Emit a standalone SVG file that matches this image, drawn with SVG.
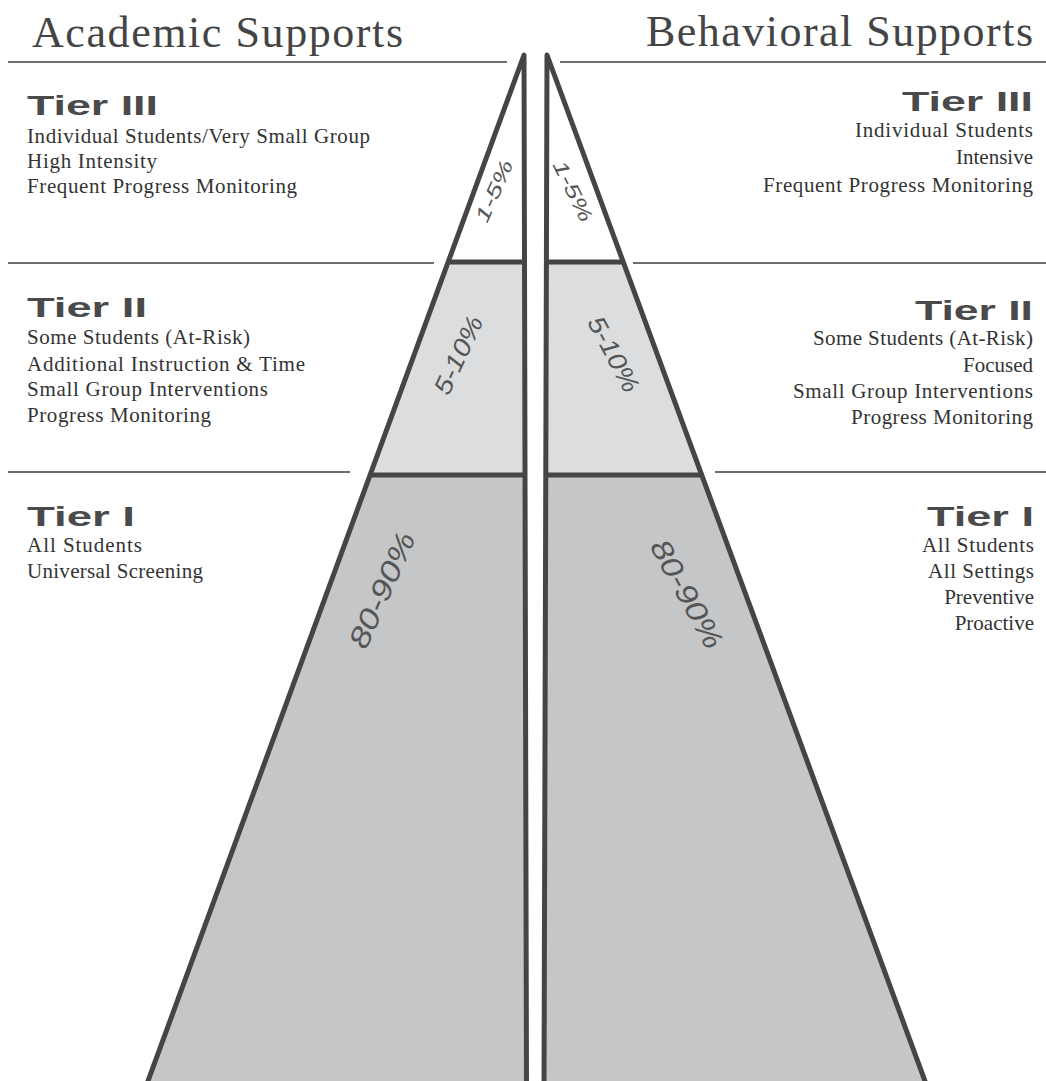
<svg xmlns="http://www.w3.org/2000/svg" width="1046" height="1081" viewBox="0 0 1046 1081">
<style>
.hdr{font-family:"Liberation Serif","Times New Roman",serif;font-size:44px;fill:#444}
.tier{font-family:"Liberation Sans",Arial,sans-serif;font-weight:bold;font-size:27px;fill:#4a4a4a}
.body{font-family:"Liberation Serif","Times New Roman",serif;font-size:21px;fill:#333}
.r{text-anchor:end}
.pct{font-family:"Liberation Sans",Arial,sans-serif;font-style:italic;fill:#555;text-anchor:middle}
.thin{stroke:#6e6e6e;stroke-width:2;fill:none}
.thick{stroke:#454545;stroke-width:5;fill:none;stroke-linejoin:round}
.t2{fill:#dcdddf}
.t1{fill:#c5c6c8}
</style>

<g id="dividers">
  <line class="thin" x1="8" y1="62" x2="507" y2="62"/>
  <line class="thin" x1="560" y1="62" x2="1046" y2="62"/>
  <line class="thin" x1="8" y1="263" x2="434" y2="263"/>
  <line class="thin" x1="633" y1="263" x2="1046" y2="263"/>
  <line class="thin" x1="8" y1="472" x2="350" y2="472"/>
  <line class="thin" x1="715" y1="472" x2="1046" y2="472"/>
</g>

<g id="left-pyramid">
  <polygon class="t2" points="448.1,262 524.5,262 525,475 370.1,475"/>
  <polygon class="t1" points="370.1,475 525,475 526.5,1090 144.7,1090"/>
  <line class="thick" x1="448.1" y1="262" x2="524.5" y2="262"/>
  <line class="thick" x1="370.1" y1="475" x2="525" y2="475"/>
  <polyline class="thick" points="144.7,1090 524,55 526.5,1090"/>
</g>

<g id="right-pyramid">
  <polygon class="t2" points="546.4,262 623.3,262 701.7,475 545.8,475"/>
  <polygon class="t1" points="545.8,475 701.7,475 928.3,1090 544,1090"/>
  <line class="thick" x1="546.4" y1="262" x2="623.3" y2="262"/>
  <line class="thick" x1="545.8" y1="475" x2="701.7" y2="475"/>
  <polyline class="thick" points="544,1090 547,55 928.3,1090"/>
</g>

<g id="percent-labels">
  <text class="pct" font-size="20" textLength="66" lengthAdjust="spacingAndGlyphs" transform="translate(494,191) rotate(-66)" x="0" y="7">1-5%</text>
  <text class="pct" font-size="20" textLength="66" lengthAdjust="spacingAndGlyphs" transform="translate(573,191) rotate(64)" x="0" y="7">1-5%</text>
  <text class="pct" font-size="25" textLength="84" lengthAdjust="spacingAndGlyphs" transform="translate(458,355) rotate(-65)" x="0" y="9">5-10%</text>
  <text class="pct" font-size="25" textLength="82" lengthAdjust="spacingAndGlyphs" transform="translate(614,354) rotate(62)" x="0" y="9">5-10%</text>
  <text class="pct" font-size="29" textLength="124" lengthAdjust="spacingAndGlyphs" transform="translate(382,590) rotate(-66)" x="0" y="10">80-90%</text>
  <text class="pct" font-size="29" textLength="120" lengthAdjust="spacingAndGlyphs" transform="translate(687,594) rotate(61)" x="0" y="10">80-90%</text>
</g>

<g id="academic-header">
  <text class="hdr" x="32" y="47" textLength="371" lengthAdjust="spacing">Academic Supports</text>
</g>
<g id="behavioral-header">
  <text class="hdr" x="646" y="46" textLength="387" lengthAdjust="spacing">Behavioral Supports</text>
</g>

<g id="academic-tier3">
  <text class="tier" x="27" y="115" textLength="131" lengthAdjust="spacingAndGlyphs">Tier III</text>
  <text class="body" x="27" y="142.5" textLength="343" lengthAdjust="spacing">Individual Students/Very Small Group</text>
  <text class="body" x="27" y="167.5" textLength="130" lengthAdjust="spacing">High Intensity</text>
  <text class="body" x="27" y="193" textLength="270" lengthAdjust="spacing">Frequent Progress Monitoring</text>
</g>
<g id="academic-tier2">
  <text class="tier" x="27" y="316.5" textLength="120" lengthAdjust="spacingAndGlyphs">Tier II</text>
  <text class="body" x="27" y="344" textLength="223" lengthAdjust="spacing">Some Students (At-Risk)</text>
  <text class="body" x="27" y="370.5" textLength="278" lengthAdjust="spacing">Additional Instruction &amp; Time</text>
  <text class="body" x="27" y="396" textLength="241" lengthAdjust="spacing">Small Group Interventions</text>
  <text class="body" x="27" y="421.5" textLength="184" lengthAdjust="spacing">Progress Monitoring</text>
</g>
<g id="academic-tier1">
  <text class="tier" x="27" y="526" textLength="108" lengthAdjust="spacingAndGlyphs">Tier I</text>
  <text class="body" x="27" y="551.5" textLength="115" lengthAdjust="spacing">All Students</text>
  <text class="body" x="27" y="578" textLength="176" lengthAdjust="spacing">Universal Screening</text>
</g>

<g id="behavioral-tier3">
  <text class="tier r" x="1033" y="111" textLength="131" lengthAdjust="spacingAndGlyphs">Tier III</text>
  <text class="body r" x="1033" y="136.5" textLength="178" lengthAdjust="spacing">Individual Students</text>
  <text class="body r" x="1033" y="164">Intensive</text>
  <text class="body r" x="1033" y="191.5" textLength="270" lengthAdjust="spacing">Frequent Progress Monitoring</text>
</g>
<g id="behavioral-tier2">
  <text class="tier r" x="1033" y="320" textLength="118" lengthAdjust="spacingAndGlyphs">Tier II</text>
  <text class="body r" x="1033" y="345" textLength="220" lengthAdjust="spacing">Some Students (At-Risk)</text>
  <text class="body r" x="1033" y="371.5">Focused</text>
  <text class="body r" x="1033" y="398" textLength="240" lengthAdjust="spacing">Small Group Interventions</text>
  <text class="body r" x="1033" y="424" textLength="182" lengthAdjust="spacing">Progress Monitoring</text>
</g>
<g id="behavioral-tier1">
  <text class="tier r" x="1034" y="526" textLength="107" lengthAdjust="spacingAndGlyphs">Tier I</text>
  <text class="body r" x="1034" y="551.5" textLength="112" lengthAdjust="spacing">All Students</text>
  <text class="body r" x="1034" y="577.5" textLength="106" lengthAdjust="spacing">All Settings</text>
  <text class="body r" x="1034" y="603.5">Preventive</text>
  <text class="body r" x="1034" y="630">Proactive</text>
</g>
</svg>
